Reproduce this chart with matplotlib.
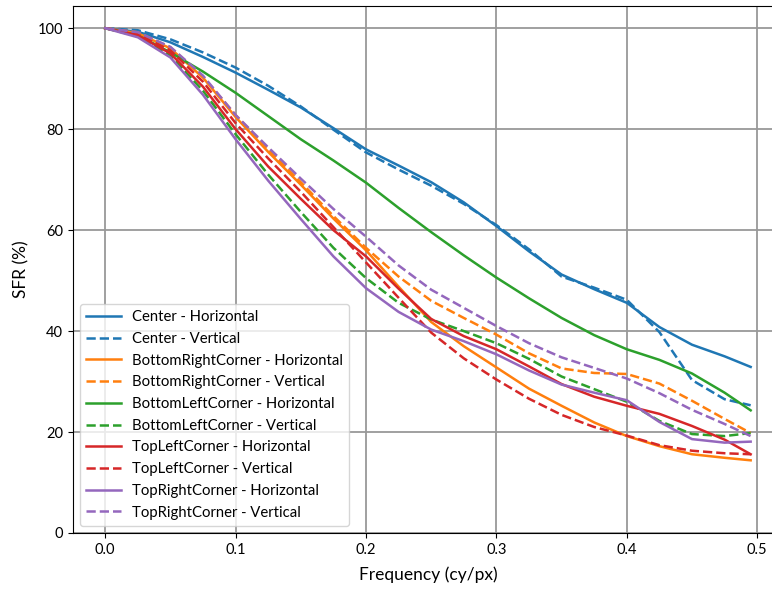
import numpy as np
import matplotlib
matplotlib.use("Agg")
import matplotlib.pyplot as plt

plt.rcParams['font.family'] = ['Lato', 'DejaVu Sans']

freq = [0.0, 0.025, 0.05, 0.075, 0.1, 0.125, 0.15, 0.175, 0.2, 0.225, 0.25,
        0.275, 0.3, 0.325, 0.35, 0.375, 0.4, 0.425, 0.45, 0.475, 0.495]

center_h = [100, 99.3, 97.2, 94.3, 91.2, 87.8, 84.3, 80.2, 76.0, 72.8, 69.5,
            65.5, 60.8, 55.8, 51.2, 48.3, 45.6, 40.8, 37.3, 35.0, 32.9]
center_v = [100, 99.6, 97.8, 95.2, 92.2, 88.6, 84.5, 79.9, 75.4, 72.0, 68.8,
            65.2, 61.0, 56.2, 50.8, 48.6, 46.2, 39.8, 30.3, 26.5, 25.3]
bottom_right_h = [100, 99.0, 96.0, 90.2, 82.4, 75.5, 69.0, 62.3, 56.0, 48.8, 41.8,
                  37.0, 32.8, 28.6, 25.2, 21.9, 19.2, 17.2, 15.6, 14.9, 14.4]
bottom_right_v = [100, 99.2, 96.2, 90.4, 82.8, 76.0, 69.5, 62.8, 56.5, 50.8, 46.0,
                  42.6, 39.3, 35.6, 32.6, 31.7, 31.5, 29.6, 26.2, 22.6, 19.8]
bottom_left_h = [100, 98.6, 95.2, 91.4, 87.2, 82.6, 78.0, 73.8, 69.4, 64.4, 59.6,
                 55.0, 50.6, 46.5, 42.6, 39.2, 36.4, 34.3, 31.6, 27.8, 24.3]
bottom_left_v = [100, 98.4, 94.6, 87.6, 79.0, 71.0, 63.6, 56.5, 50.5, 45.6, 42.3,
                 40.0, 37.6, 34.5, 31.0, 28.5, 26.0, 22.2, 19.6, 19.2, 19.8]
top_left_h = [100, 98.6, 95.0, 88.4, 80.0, 72.6, 66.2, 60.0, 54.8, 48.4, 42.4,
              39.0, 36.4, 33.0, 29.5, 27.0, 25.2, 23.6, 21.2, 18.5, 15.6]
top_left_v = [100, 98.8, 95.6, 89.4, 81.2, 74.2, 67.6, 60.6, 53.6, 46.6, 39.7,
              34.6, 30.4, 26.6, 23.4, 21.0, 19.3, 17.4, 16.3, 15.8, 15.6]
top_right_h = [100, 98.2, 94.2, 86.8, 78.0, 69.8, 62.2, 54.8, 48.5, 43.8, 40.3,
               38.0, 35.4, 32.2, 29.4, 27.8, 26.3, 22.0, 18.6, 17.9, 18.1]
top_right_v = [100, 99.2, 96.3, 90.6, 82.8, 76.4, 70.2, 64.2, 58.7, 53.0, 48.2,
               44.6, 41.0, 37.6, 34.8, 32.7, 30.6, 27.7, 24.4, 21.6, 19.2]

regions = ["Center", "BottomRightCorner", "BottomLeftCorner", "TopLeftCorner", "TopRightCorner"]
colors = ["#1f77b4", "#ff7f0e", "#2ca02c", "#d62728", "#9467bd"]
curves = [(center_h, center_v), (bottom_right_h, bottom_right_v),
          (bottom_left_h, bottom_left_v), (top_left_h, top_left_v),
          (top_right_h, top_right_v)]

fig = plt.figure(figsize=(7.72, 5.92), dpi=100)
ax = fig.add_axes([73 / 772, 59 / 592, 710 / 772, 527 / 592])

for name, col, (h, v) in zip(regions, colors, curves):
    ax.plot(freq, h, color=col, lw=1.8, label=name + " - Horizontal")
    ax.plot(freq, v, color=col, lw=1.8, ls="--", label=name + " - Vertical")

ax.set_xlim(-0.0247, 0.5198)
ax.set_ylim(0, 104.4)
ax.set_xticks([0.0, 0.1, 0.2, 0.3, 0.4, 0.5])
ax.set_yticks([0, 20, 40, 60, 80, 100])
ax.grid(True, color="0.6", lw=1.3)
ax.tick_params(labelsize=10.5)
ax.set_xlabel("Frequency (cy/px)", fontsize=12.5, labelpad=7)
ax.set_ylabel("SFR (%)", fontsize=12.5, labelpad=6)
ax.legend(loc="lower left", fontsize=10.7, labelspacing=0.52, handlelength=2.3)

fig.savefig("out.png", dpi=100)
